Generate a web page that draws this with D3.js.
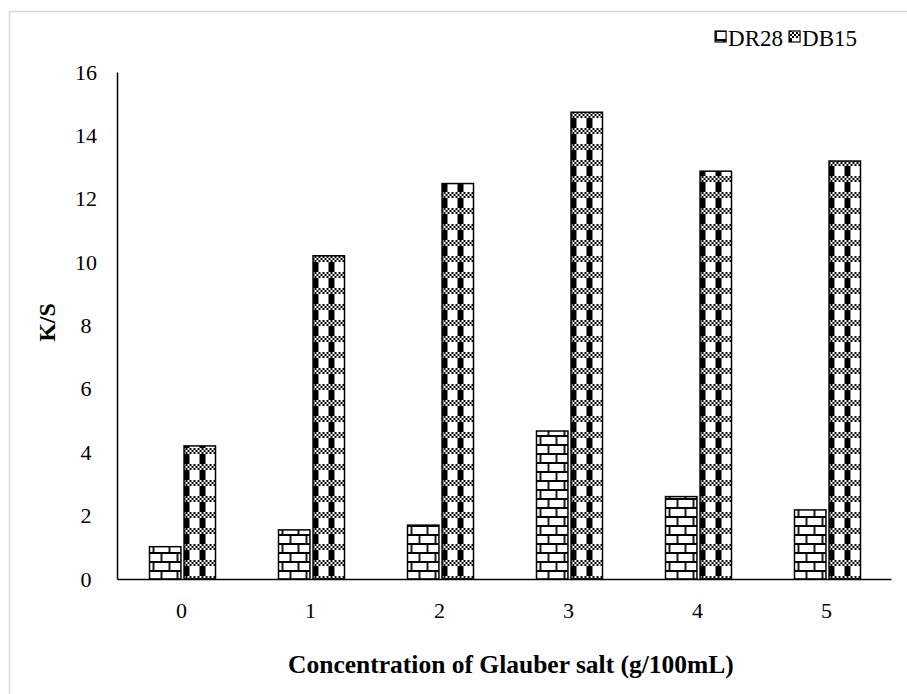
<!doctype html>
<html lang="en">
<head>
  <meta charset="utf-8">
  <title>K/S vs Glauber salt</title>
  <style>
    body { margin: 0; background: #fff; }
    svg text { font-family: "Liberation Serif", "Times New Roman", "DejaVu Serif", serif; fill: #000; }
  </style>
</head>
<body>
  <script src="https://cdn.jsdelivr.net/npm/d3@7"></script>
  <script>
    // data
    var categories = ['0', '1', '2', '3', '4', '5']
    var seriesNames = ['DR28', 'DB15']
    var dr28 = [1.02, 1.55, 1.7, 4.67, 2.6, 2.18]
    var db15 = [4.2, 10.2, 12.48, 14.73, 12.87, 13.19]
    var yTicks = [0, 2, 4, 6, 8, 10, 12, 14, 16]

    var W = 907, H = 694
    var margin = { left: 117, right: 16, top: 72, bottom: 115 }
    var serif = '"Liberation Serif", "Times New Roman", serif'

    var svg = d3.select('body').append('svg')
      .attr('width', W)
      .attr('height', H)

    var defs = svg.append('defs')

    // brick pattern for DR28
    var brick = defs.append('pattern')
      .attr('id', 'brick')
      .attr('patternUnits', 'userSpaceOnUse')
      .attr('width', 16).attr('height', 18)
      .attr('y', 3)
    brick.append('rect').attr('width', 16).attr('height', 18).attr('fill', '#fff')
    brick.append('path')
      .attr('d', 'M0,1H16M0,10H16M4,1V10M12,10V19')
      .attr('stroke', '#000').attr('stroke-width', 1.8)

    // checker / block pattern for DB15
    var check = defs.append('pattern')
      .attr('id', 'check')
      .attr('patternUnits', 'userSpaceOnUse')
      .attr('width', 16).attr('height', 16)
    check.append('rect').attr('width', 16).attr('height', 16).attr('fill', '#fff')
    for (var r = 0; r < 3; r++) {
      for (var c = 0; c < 8; c++) {
        if ((r + c) % 2 === 0) {
          check.append('rect')
            .attr('x', c * 2).attr('y', r * 2)
            .attr('width', 2).attr('height', 2)
            .attr('fill', '#000')
        }
      }
    }
    check.append('rect').attr('x', 2).attr('y', 6).attr('width', 6).attr('height', 10).attr('fill', '#000')

    var patterns = { DR28: 'url(#brick)', DB15: 'url(#check)' }

    // outer frame
    svg.append('rect')
      .attr('x', 9.5).attr('y', 11.5)
      .attr('width', W).attr('height', H)
      .attr('fill', 'none')
      .attr('stroke', '#d9d9d9')
      .attr('stroke-width', 1.5)

    var x0 = d3.scaleBand()
      .domain(categories)
      .range([margin.left, W - margin.right])

    var x1 = d3.scaleBand()
      .domain(seriesNames)
      .range([0, 66])
      .paddingInner(0.09)

    var y = d3.scaleLinear()
      .domain([0, 16])
      .range([H - margin.bottom, margin.top])

    var rows = categories.map(function(c, i) {
      return { cat: c, values: [{ key: 'DR28', v: dr28[i] }, { key: 'DB15', v: db15[i] }] }
    })

    var groups = svg.selectAll('.cat')
      .data(rows)
      .enter().append('g')
      .attr('class', 'cat')
      .attr('transform', function(d) {
        return 'translate(' + (x0(d.cat) + x0.bandwidth() / 2 - 32) + ',0)'
      })

    groups.selectAll('rect')
      .data(function(d) { return d.values })
      .enter().append('rect')
      .attr('x', function(d) { return x1(d.key) })
      .attr('y', function(d) { return y(d.v) })
      .attr('width', x1.bandwidth())
      .attr('height', function(d) { return y(0) - y(d.v) })
      .attr('fill', function(d) { return patterns[d.key] })
      .attr('stroke', '#000')
      .attr('stroke-width', 1.5)

    // y axis
    var yAxis = d3.axisLeft(y).tickValues(yTicks).tickSize(0).tickPadding(0)
    var gy = svg.append('g')
      .attr('transform', 'translate(' + margin.left + ',0)')
      .call(yAxis)
    gy.attr('font-family', serif)
    gy.select('.domain').attr('stroke', '#000').attr('stroke-width', 1.5)
    gy.selectAll('text')
      .attr('x', -31)
      .attr('text-anchor', 'middle')
      .style('font-size', '22px')

    // x axis
    var xAxis = d3.axisBottom(x0).tickSize(0).tickPadding(0)
    var gx = svg.append('g')
      .attr('transform', 'translate(0,' + y(0) + ')')
      .call(xAxis)
    gx.attr('font-family', serif)
    gx.select('.domain').attr('stroke', '#000').attr('stroke-width', 1.5)
    gx.selectAll('text')
      .attr('y', 23)
      .style('font-size', '22px')

    // axis titles
    svg.append('text')
      .attr('transform', 'translate(55,' + ((margin.top + y(0)) / 2 - 3) + ') rotate(-90)')
      .attr('text-anchor', 'middle')
      .attr('font-weight', 'bold')
      .attr('font-size', 24)
      .text('K/S')

    svg.append('text')
      .attr('x', 511)
      .attr('y', 673)
      .attr('text-anchor', 'middle')
      .attr('font-weight', 'bold')
      .attr('font-size', 25.5)
      .text('Concentration of Glauber salt (g/100mL)')

    // legend, laid out right to left so it ends near x=857
    var legend = svg.append('g').attr('class', 'legend')
    var right = 857
    seriesNames.slice().reverse().forEach(function(name) {
      var item = legend.append('g')
      var t = item.append('text')
        .attr('y', 46)
        .attr('font-size', 23)
        .text(name)
      var w = t.node().getComputedTextLength()
      t.attr('x', right - w)
      item.append('rect')
        .attr('x', right - w - 13)
        .attr('y', 31)
        .attr('width', 11).attr('height', 11)
        .attr('fill', patterns[name])
        .attr('stroke', '#000')
        .attr('stroke-width', 1.2)
      right = right - w - 19
    })
  </script>
</body>
</html>
